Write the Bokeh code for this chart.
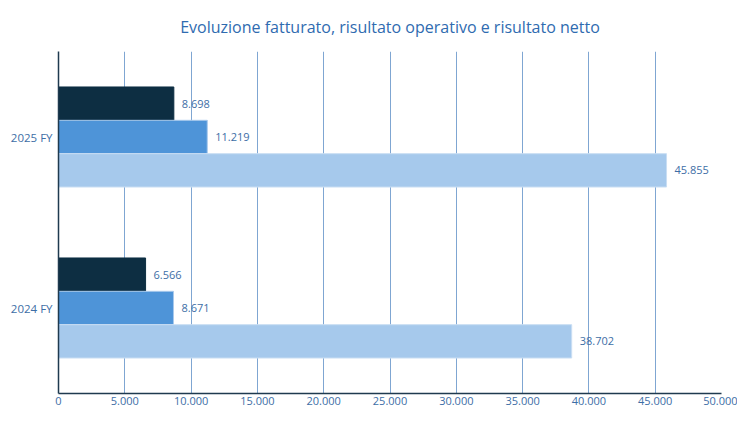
from bokeh.plotting import figure
from bokeh.models import ColumnDataSource, FactorRange, LabelSet, FixedTicker, Range1d
from bokeh.transform import dodge
from bokeh.core.properties import value
from bokeh.embed import file_html
from bokeh.resources import INLINE

# ---- data ----
categories = ["2024 FY", "2025 FY"]
fatturato = [38702, 45855]
risultato_operativo = [8671, 11219]
risultato_netto = [6566, 8698]
x_ticks = [0, 5000, 10000, 15000, 20000, 25000, 30000, 35000, 40000, 45000, 50000]
x_tick_labels = ["0", "5.000", "10.000", "15.000", "20.000", "25.000", "30.000",
                 "35.000", "40.000", "45.000", "50.000"]
title_text = "Evoluzione fatturato, risultato operativo e risultato netto"

def fmt(v):
    return f"{v:,}".replace(",", ".")

src = ColumnDataSource(dict(
    cat=categories,
    fat=fatturato, op=risultato_operativo, net=risultato_netto,
    fat_l=[fmt(v) for v in fatturato],
    op_l=[fmt(v) for v in risultato_operativo],
    net_l=[fmt(v) for v in risultato_netto],
))

TXT = "#3D6EA6"
FONT = "Open Sans"

p = figure(width=737, height=409, output_backend="svg", toolbar_location=None,
           y_range=FactorRange(*categories, range_padding=0),
           x_range=Range1d(0, 50000),
           min_border_left=58, min_border_right=16, min_border_bottom=16, min_border_top=38)
p.outline_line_color = None
p.title.text = title_text
p.title.align = "center"
p.title.text_font = FONT
p.title.text_font_size = "16px"
p.title.text_font_style = "normal"
p.title.text_color = "#2F6BB0"
p.title.standoff = 27

bh = 0.195
p.hbar(y=dodge("cat", 0.195, range=p.y_range), right="net", height=bh, left=0, source=src,
       fill_color="#0D2E42", line_color="#0D2E42")
p.hbar(y=dodge("cat", 0.0, range=p.y_range), right="op", height=bh, left=0, source=src,
       fill_color="#4E94D8", line_color="#A8C9EC", line_width=1)
p.hbar(y=dodge("cat", -0.195, range=p.y_range), right="fat", height=bh, left=0, source=src,
       fill_color="#A6C9EC", line_color="#C9DEF3", line_width=1)

for col, lab, off in (("net", "net_l", 0.195), ("op", "op_l", 0.0), ("fat", "fat_l", -0.195)):
    p.add_layout(LabelSet(x=col, y=dodge("cat", off, range=p.y_range), text=lab, source=src,
                          x_offset=8, text_baseline="middle", text_font=value(FONT),
                          text_font_size="11px", text_color=TXT))

p.xaxis.ticker = FixedTicker(ticks=x_ticks)
p.xaxis.major_label_overrides = {t: l for t, l in zip(x_ticks, x_tick_labels)}
p.xaxis.major_tick_line_color = None
p.xaxis.minor_tick_line_color = None
p.xaxis.major_tick_out = 0
p.xaxis.major_tick_in = 0
p.xaxis.axis_line_color = "#1F3A4F"
p.xaxis.axis_line_width = 1.5
p.xaxis.major_label_text_font = FONT
p.xaxis.major_label_text_font_size = "11px"
p.xaxis.major_label_text_color = TXT
p.xaxis.major_label_standoff = 3

p.yaxis.major_tick_line_color = None
p.yaxis.minor_tick_line_color = None
p.yaxis.major_tick_out = 0
p.yaxis.major_tick_in = 0
p.yaxis.axis_line_color = "#1F3A4F"
p.yaxis.axis_line_width = 1.5
p.yaxis.major_label_text_font = FONT
p.yaxis.major_label_text_font_size = "11.5px"
p.yaxis.major_label_text_color = TXT
p.yaxis.major_label_standoff = 6

p.xgrid.ticker = FixedTicker(ticks=x_ticks)
p.xgrid.grid_line_color = "#7FA6D2"
p.xgrid.grid_line_width = 1
p.ygrid.grid_line_color = None

open("out.html", "w").write(file_html(p, INLINE))
